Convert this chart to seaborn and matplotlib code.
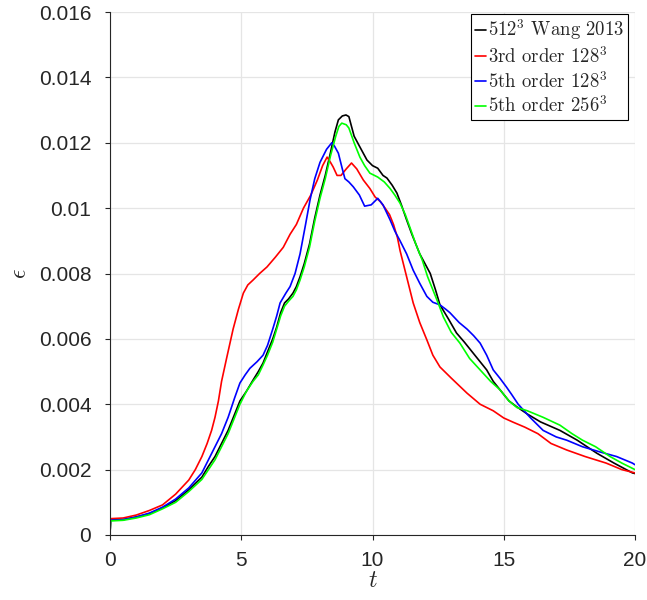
import numpy as np
import pandas as pd
import matplotlib
matplotlib.use("Agg")
import matplotlib.pyplot as plt
import seaborn as sns

# ---- data ----
series_names = [r"$512^3$ Wang 2013", r"3rd order $128^3$", r"5th order $128^3$", r"5th order $256^3$"]
series_colors = ["#000000", "#ff0000", "#0000ff", "#00ff00"]

t_black = [0, 0.02, 0.5, 1, 1.5, 2, 2.5, 3, 3.5, 3.75, 4, 4.25, 4.5, 4.75, 4.95, 5.2, 5.45, 5.65, 5.83, 6.0,
           6.2, 6.35, 6.5, 6.65, 6.8, 6.97, 7.1, 7.24, 7.4, 7.6, 7.8, 8.0, 8.2, 8.4, 8.57, 8.7, 8.85, 8.99,
           9.1, 9.2, 9.3, 9.5, 9.79, 10.0, 10.2, 10.4, 10.55, 10.75, 10.93, 11.1, 11.3, 11.5, 11.8, 12.0,
           12.2, 12.4, 12.57, 12.9, 13.2, 13.5, 13.83, 14.1, 14.35, 14.6, 14.86, 15.2, 15.5, 15.9, 16.4,
           17.14, 17.8, 18.55, 19.2, 19.9, 20]
e_black = [0, 0.00045, 0.00047, 0.00055, 0.00065, 0.00083, 0.00105, 0.00138, 0.00177, 0.0021, 0.0024,
           0.0028, 0.0032, 0.0037, 0.0041, 0.0044, 0.00474, 0.0050, 0.00526, 0.0056, 0.0060, 0.00636, 0.0068,
           0.0071, 0.00722, 0.0074, 0.0076, 0.0079, 0.0083, 0.0089, 0.0097, 0.0104, 0.0110, 0.0117, 0.01233,
           0.0127, 0.01282, 0.01285, 0.0128, 0.0125, 0.0122, 0.0119, 0.01147, 0.0113, 0.01122, 0.0110,
           0.01092, 0.0107, 0.01046, 0.0101, 0.00964, 0.0092, 0.0086, 0.0083, 0.0080, 0.0075, 0.00704,
           0.0066, 0.00618, 0.0059, 0.00557, 0.0053, 0.00505, 0.0047, 0.00444, 0.0041, 0.00392, 0.0037,
           0.00346, 0.0032, 0.0029, 0.0025, 0.0022, 0.0019, 0.00188]

t_red = [0, 0.02, 0.5, 1, 1.5, 2, 2.5, 3, 3.25, 3.5, 3.7, 3.87, 4.0, 4.13, 4.25, 4.44, 4.69, 4.89, 5.08, 5.25,
         5.45, 5.7, 5.98, 6.3, 6.6, 6.86, 7.1, 7.37, 7.65, 7.9, 8.1, 8.27, 8.4, 8.5, 8.65, 8.8, 9.0, 9.2,
         9.4, 9.65, 9.9, 10.1, 10.3, 10.48, 10.65, 10.8, 10.95, 11.05, 11.3, 11.55, 11.8, 12.07, 12.3,
         12.57, 13.0, 13.6, 14.1, 14.6, 15.0, 15.36, 15.8, 16.3, 16.8, 17.4, 18.1, 18.9, 19.5, 20]
e_red = [0, 0.0005, 0.00052, 0.00061, 0.00075, 0.00092, 0.00125, 0.00168, 0.0020, 0.0024, 0.0028, 0.0032,
         0.0036, 0.0041, 0.0047, 0.0054, 0.0063, 0.0069, 0.0074, 0.00765, 0.0078, 0.0080, 0.0082, 0.0085,
         0.0088, 0.0092, 0.0095, 0.0100, 0.0104, 0.01086, 0.0113, 0.01156, 0.0114, 0.01126, 0.0110, 0.0110,
         0.0112, 0.01138, 0.0112, 0.01086, 0.0106, 0.01034, 0.0102, 0.0100, 0.0098, 0.0095, 0.0091, 0.0087,
         0.0079, 0.0071, 0.0065, 0.00597, 0.0055, 0.00514, 0.0048, 0.00434, 0.0040, 0.0038, 0.00358,
         0.00345, 0.0033, 0.0031, 0.0028, 0.0026, 0.0024, 0.0022, 0.0020, 0.0019]

t_blue = [0, 0.02, 0.5, 1, 1.5, 2, 2.5, 3, 3.5, 3.75, 4, 4.25, 4.5, 4.75, 4.95, 5.15, 5.33, 5.6, 5.83, 6.0,
          6.2, 6.35, 6.48, 6.7, 6.86, 7.05, 7.24, 7.45, 7.62, 7.8, 8.0, 8.25, 8.45, 8.55, 8.7, 8.85, 8.95,
          9.1, 9.27, 9.5, 9.7, 9.95, 10.2, 10.4, 10.67, 10.85, 11.05, 11.3, 11.55, 11.8, 12.07, 12.3, 12.57,
          12.8, 12.95, 13.3, 13.6, 13.85, 14.1, 14.35, 14.6, 14.85, 15.1, 15.3, 15.55, 16.0, 16.5, 17.0,
          17.4, 18.0, 18.67, 19.3, 19.9, 20]
e_blue = [0, 0.00045, 0.00047, 0.00055, 0.00067, 0.00085, 0.0011, 0.00144, 0.0019, 0.0023, 0.0027, 0.0031,
          0.0036, 0.0042, 0.00465, 0.0049, 0.0051, 0.0053, 0.0055, 0.0058, 0.0063, 0.0067, 0.0071, 0.0074,
          0.0076, 0.0080, 0.0086, 0.0095, 0.01025, 0.0109, 0.0114, 0.0118, 0.0120, 0.0119, 0.01168, 0.0112,
          0.0109, 0.0108, 0.01065, 0.0104, 0.01006, 0.0101, 0.0103, 0.0101, 0.00964, 0.0093, 0.0090, 0.0086,
          0.0081, 0.0077, 0.0073, 0.00712, 0.00704, 0.0069, 0.0068, 0.0065, 0.0063, 0.0061, 0.00587, 0.0055,
          0.00505, 0.0048, 0.00453, 0.0043, 0.0040, 0.0036, 0.0032, 0.0030, 0.0029, 0.0027, 0.00254, 0.0024,
          0.0022, 0.00215]

t_green = [0, 0.02, 0.5, 1, 1.5, 2, 2.5, 3, 3.5, 3.75, 4, 4.25, 4.5, 4.75, 4.95, 5.2, 5.45, 5.65, 5.83, 6.0,
           6.2, 6.35, 6.5, 6.65, 6.8, 6.97, 7.1, 7.24, 7.4, 7.6, 7.8, 8.0, 8.2, 8.4, 8.6, 8.72, 8.83, 9.0,
           9.1, 9.3, 9.52, 9.7, 9.9, 10.2, 10.45, 10.67, 10.85, 11.05, 11.25, 11.43, 11.65, 11.9, 12.1, 12.3,
           12.5, 12.7, 13.0, 13.33, 13.7, 14.1, 14.5, 14.86, 15.2, 15.5, 15.9, 16.5, 17.14, 17.6, 18.0, 18.5,
           19.05, 19.5, 19.9, 20]
e_green = [0, 0.00043, 0.00045, 0.00052, 0.00062, 0.0008, 0.0010, 0.00133, 0.0017, 0.0020, 0.0023, 0.0027,
           0.0031, 0.0036, 0.0040, 0.0044, 0.0047, 0.0049, 0.0052, 0.0055, 0.0059, 0.0063, 0.0067, 0.0070,
           0.00715, 0.0073, 0.0075, 0.0078, 0.0082, 0.0088, 0.0096, 0.0103, 0.0109, 0.0116, 0.0122, 0.0125,
           0.0126, 0.01255, 0.01245, 0.0120, 0.01156, 0.0113, 0.01107, 0.01095, 0.0108, 0.0106, 0.0104,
           0.01015, 0.0098, 0.0094, 0.0089, 0.0084, 0.0079, 0.0075, 0.0071, 0.00667, 0.0062, 0.00587, 0.0054,
           0.00505, 0.0047, 0.00444, 0.0041, 0.0039, 0.0038, 0.0036, 0.00336, 0.0031, 0.0029, 0.0027, 0.0024,
           0.0022, 0.00204, 0.0020]

x_ticks = [0, 5, 10, 15, 20]
y_ticks = [0, 0.002, 0.004, 0.006, 0.008, 0.01, 0.012, 0.014, 0.016]
y_tick_labels = ["0", "0.002", "0.004", "0.006", "0.008", "0.01", "0.012", "0.014", "0.016"]

frames = []
for name, t, e in zip(series_names,
                      [t_black, t_red, t_blue, t_green],
                      [e_black, e_red, e_blue, e_green]):
    frames.append(pd.DataFrame({"t": t, "eps": e, "series": name}))
df = pd.concat(frames, ignore_index=True)

# ---- styling ----
sns.set_style("whitegrid")
plt.rcParams["font.family"] = ["Liberation Sans", "DejaVu Sans"]
plt.rcParams["mathtext.fontset"] = "cm"

fig = plt.figure(figsize=(6.47, 6.0), dpi=100)
ax = fig.add_axes([110 / 647, 65 / 600, 525 / 647, 523 / 600])

sns.lineplot(data=df, x="t", y="eps", hue="series", hue_order=series_names,
             palette=dict(zip(series_names, series_colors)), estimator=None,
             sort=False, linewidth=1.2, ax=ax, legend=False)

ax.set_xlim(0, 20)
ax.set_ylim(0, 0.016)
ax.set_xticks(x_ticks)
ax.set_xticklabels([str(v) for v in x_ticks])
ax.set_yticks(y_ticks)
ax.set_yticklabels(y_tick_labels)

ax.grid(True, color="#e5e5e5", linewidth=0.9)
for side in ["top", "right"]:
    ax.spines[side].set_visible(False)
for side in ["left", "bottom"]:
    ax.spines[side].set_color("#262626")
    ax.spines[side].set_linewidth(0.8)
ax.tick_params(axis="both", direction="out", length=3.5, width=0.8, color="#262626",
               labelsize=15, labelcolor="#262626", left=True, bottom=True)
ax.tick_params(axis="y", pad=10)
ax.tick_params(axis="x", pad=8)

ax.set_xlabel(r"$t$", fontsize=17, labelpad=0)
ax.set_ylabel(r"$\epsilon$", fontsize=17, labelpad=5)

handles = [plt.Line2D([], [], color=c, linewidth=1.2) for c in series_colors]
leg = ax.legend(handles, series_names, loc="upper right", bbox_to_anchor=(0.987, 0.997),
                prop={"family": "cmr10", "size": 13.5}, frameon=True, fancybox=False,
                edgecolor="black", framealpha=1, handlelength=0.6, handletextpad=0.1,
                labelspacing=0.2, borderpad=0.2, borderaxespad=0)
leg.get_frame().set_linewidth(0.8)

fig.savefig("out.png", dpi=100)
